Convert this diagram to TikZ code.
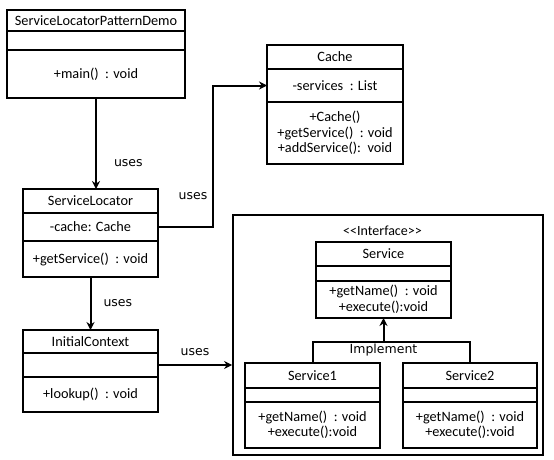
\documentclass[tikz,border=0pt]{standalone}
\usepackage{fontspec}
\setmainfont{Carlito}
\newfontfamily\lblfont{DejaVu Sans}
\usetikzlibrary{positioning,arrows.meta,calc}

\begin{document}
\begin{tikzpicture}[x=1pt,y=-1pt,
  font=\fontsize{14.3}{15.5}\selectfont, >={Stealth[length=8pt,width=8pt]},
  cls/.style={draw,line width=1.8pt,outer sep=0pt,inner sep=0pt,align=center,
              minimum width=#1},
  lbl/.style={font=\lblfont\fontsize{12.5}{14}\selectfont,inner sep=1pt},
  k/.style={->,line width=2pt},
]
\useasboundingbox[fill=white] (0,0) rectangle (554,460);

% ServiceLocatorPatternDemo
\node[cls=178,minimum height=21] (demo) at (96,20.5) {ServiceLocatorPatternDemo};
\node[cls=178,minimum height=19,below=0pt of demo] (demo-a) {};
\node[cls=178,minimum height=48,below=0pt of demo-a] (demo-m) {+main()\ \ : void};

% Cache
\node[cls=136,minimum height=24] (cache) at (335,57) {Cache};
\node[cls=136,minimum height=33,below=0pt of cache] (cache-a) {-services\ \ : List};
\node[cls=136,minimum height=62,below=0pt of cache-a] (cache-m)
  {+Cache()\\+getService()\ \ : void\\+addService():\ \ void};

% ServiceLocator
\node[cls=135,minimum height=24] (loc) at (90.5,201) {ServiceLocator};
\node[cls=135,minimum height=28,below=0pt of loc] (loc-a) {-cache: Cache};
\node[cls=135,minimum height=36,below=0pt of loc-a] (loc-m) {+getService()\ \ : void};

% InitialContext
\node[cls=135,minimum height=23] (ctx) at (90.5,341.5) {InitialContext};
\node[cls=135,minimum height=24,below=0pt of ctx] (ctx-a) {};
\node[cls=135,minimum height=35,below=0pt of ctx-a] (ctx-m) {+lookup()\ \ : void};

% services package
\node[draw,line width=1.8pt,minimum width=310,minimum height=240] (pkg) at (388,335) {};
\node[font=\fontsize{14}{15}\selectfont] (stereo) at (382.5,231)
  {\textless\kern0pt\textless Interface\textgreater\kern0pt\textgreater};

\node[cls=135,minimum height=24] (svc) at (383.5,254) {Service};
\node[cls=135,minimum height=15,below=0pt of svc] (svc-a) {};
\node[cls=135,minimum height=37,below=0pt of svc-a] (svc-m) {+getName()\ \ : void\\+execute():void};

\node[cls=135,minimum height=25] (s1) at (312.5,375.5) {Service1};
\node[cls=135,minimum height=14,below=0pt of s1] (s1-a) {};
\node[cls=135,minimum height=46,below=0pt of s1-a] (s1-m) {+getName()\ \ : void\\+execute():void};

\node[cls=134,minimum height=25] (s2) at (470,375.5) {Service2};
\node[cls=134,minimum height=14,below=0pt of s2] (s2-a) {};
\node[cls=134,minimum height=46,below=0pt of s2-a] (s2-m) {+getName()\ \ : void\\+execute():void};

% connectors
\draw[k] (demo-m.south) -- node[lbl,right=16pt,pos=0.72] (u1) {uses} (demo-m.south |- loc.north);
\draw[k] (loc-m.south) -- node[lbl,right=11pt] (u2) {uses} (ctx.north);
\draw[k] (loc-a.east) -| coordinate[pos=0.72] (bend)
  ($(loc-a.east)!.5!(cache-a.west)$) |- (cache-a.west);
\node[lbl,left=4pt] (u3) at (bend) {uses};
\draw[k] (ctx-a.east) -- node[lbl,above=7pt] (u4) {uses} (ctx-a.east -| pkg.west);

\coordinate (impl) at ($(svc-m.south)+(0,24)$);
\draw[line width=2pt] (s1.north) |- (impl) -| (s2.north);
\draw[k] (impl) -- (svc-m.south);
\node[lbl,below=1pt] (impl-lbl) at (impl) {Implement};
\end{tikzpicture}
\end{document}
